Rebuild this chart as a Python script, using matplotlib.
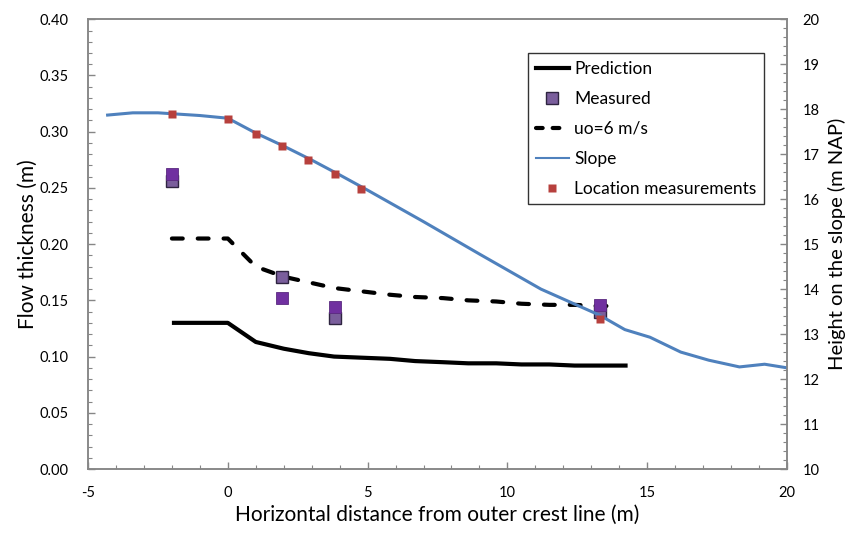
import matplotlib
matplotlib.use("Agg")
import matplotlib.pyplot as plt
from matplotlib.lines import Line2D

plt.rcParams['font.family'] = ['Lato', 'DejaVu Sans']
plt.rcParams['axes.unicode_minus'] = False

# prediction (black solid)
x_pred = [-2, 0, 1, 2, 2.9, 3.8, 4.8, 5.8, 6.7, 7.7, 8.6, 9.6, 10.5, 11.5, 12.4, 13.3, 14.3]
pred = [0.130, 0.130, 0.113, 0.107, 0.103, 0.100, 0.099, 0.098, 0.096, 0.095,
        0.094, 0.094, 0.093, 0.093, 0.092, 0.092, 0.092]

# uo = 6 m/s (dashed)
x_uo = [-2, 0, 1, 2, 2.9, 3.8, 4.8, 5.8, 6.7, 7.7, 8.6, 9.6, 10.5, 11.5, 12.4, 13.3, 13.9]
uo = [0.205, 0.205, 0.180, 0.171, 0.166, 0.161, 0.158, 0.155, 0.153, 0.152,
      0.150, 0.149, 0.147, 0.146, 0.146, 0.145, 0.145]

# measured flow thickness (two runs)
x_meas = [-2, 1.93, 3.82, 13.3]
meas_a = [0.256, 0.171, 0.134, 0.140]
meas_b = [0.262, 0.152, 0.144, 0.146]

# slope profile (right axis)
x_slope = [-4.3, -3.4, -2.5, -2, -1, 0, 1, 2, 3, 4, 5, 7, 9, 11.2, 13.3,
           14.2, 15.1, 16.2, 17.2, 18.3, 19.2, 20.0]
h_slope = [17.87, 17.92, 17.92, 17.9, 17.86, 17.8, 17.47, 17.18, 16.87, 16.54, 16.2,
           15.5, 14.78, 14.0, 13.42, 13.1, 12.93, 12.6, 12.42, 12.27, 12.33, 12.25]

# measurement locations on slope
x_loc = [-2, 0, 1, 1.93, 2.88, 3.82, 4.77, 13.3]
h_loc = [17.89, 17.78, 17.45, 17.18, 16.88, 16.56, 16.22, 13.33]

grey = '#868686'
blue = '#4F81BD'
red = '#B7403D'
muted = '#7A5E9C'
purple = '#7030A0'

fig = plt.figure(figsize=(8.53, 5.34), dpi=100)
ax = fig.add_axes([0.1032, 0.1217, 0.8194, 0.8422])
ax2 = ax.twinx()

ax.plot(x_pred, pred, color='black', lw=3, solid_capstyle='butt')
ax.plot(x_uo, uo, color='black', lw=3, dashes=(2.6, 3.6), dash_capstyle='round')
ax.plot(x_meas, meas_a, 's', ms=8.5, mfc=muted, mec='#2E2440', mew=1.0)
ax.plot(x_meas, meas_b, 's', ms=8.5, mfc=purple, mec='#5A2A80', mew=0.6)

ax2.plot(x_slope, h_slope, color=blue, lw=2.2)
ax2.plot(x_loc, h_loc, 's', ms=6, color=red, mec='none')

ax.set_xlim(-5, 20)
ax.set_ylim(0, 0.40)
ax2.set_ylim(10, 20)
ax.set_xticks([-5, 0, 5, 10, 15, 20])
ax.set_xticks(range(-5, 21), minor=True)
ax.set_yticks([i * 0.05 for i in range(9)])
ax.set_yticks([i * 0.01 for i in range(41)], minor=True)
ax.set_yticklabels(['%.2f' % (i * 0.05) for i in range(9)])
ax2.set_yticks(range(10, 21))
ax2.set_yticks([10 + i * 0.2 for i in range(51)], minor=True)

for a in (ax, ax2):
    for s in a.spines.values():
        s.set_color(grey)
        s.set_linewidth(1.1)
    a.tick_params(which='both', direction='in', color=grey, labelsize=10.5)
    a.tick_params(which='major', length=5, width=1)
    a.tick_params(which='minor', length=3, width=0.8)
ax.tick_params(axis='x', pad=12)
ax.tick_params(axis='y', pad=14)
ax2.tick_params(axis='y', pad=11)

ax.set_xlabel('Horizontal distance from outer crest line (m)', fontsize=15, labelpad=4)
ax.set_ylabel('Flow thickness (m)', fontsize=15, labelpad=1)
ax2.set_ylabel('Height on the slope (m NAP)', fontsize=14.5, labelpad=6)

handles = [
    Line2D([], [], color='black', lw=3),
    Line2D([], [], ls='none', marker='s', ms=8, mfc=muted, mec='#2E2440', mew=1.0),
    Line2D([], [], color='black', lw=3, dashes=(1.6, 2.4), dash_capstyle='round'),
    Line2D([], [], color=blue, lw=1.5),
    Line2D([], [], ls='none', marker='s', ms=6, color=red, mec='none'),
]
labels = ['Prediction', 'Measured', 'uo=6 m/s', 'Slope', 'Location measurements']
leg = ax2.legend(handles, labels, loc='upper left', bbox_to_anchor=(0.6295, 0.9244),
                 fontsize=12.5, frameon=True, fancybox=False, handlelength=1.9,
                 handletextpad=0.3, labelspacing=0.8, borderpad=0.45, borderaxespad=0)
leg.get_frame().set_edgecolor('black')
leg.get_frame().set_linewidth(1.0)

fig.savefig('out.png', dpi=100)
